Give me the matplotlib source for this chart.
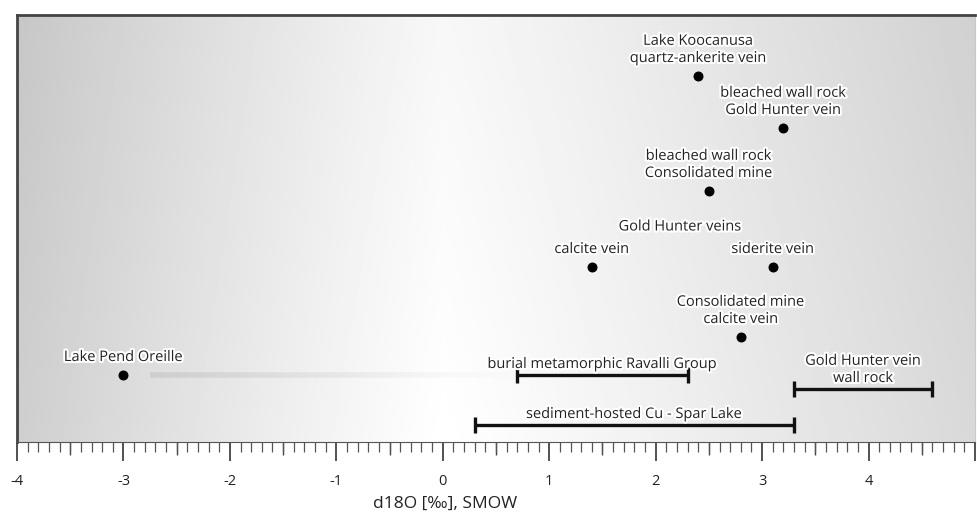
import numpy as np
import matplotlib.pyplot as plt
import matplotlib.patheffects as pe

########################## dados (d18O, permil SMOW) ##########################

point_names = ["Lake Koocanusa\nquartz-ankerite vein",
               "bleached wall rock\nGold Hunter vein",
               "bleached wall rock\nConsolidated mine",
               "calcite vein",
               "siderite vein",
               "Consolidated mine\ncalcite vein",
               "Lake Pend Oreille"]
point_d18o = [2.4, 3.2, 2.5, 1.4, 3.1, 2.8, -3.0]

range_names = ["burial metamorphic Ravalli Group",
               "Gold Hunter vein\nwall rock",
               "sediment-hosted Cu - Spar Lake"]
range_low = [0.7, 3.3, 0.3]
range_high = [2.3, 4.6, 3.3]

tick_values = [-4, -3, -2, -1, 0, 1, 2, 3, 4]

# linhas verticais (layout, sem significado fisico)
point_rows = [366, 314, 251, 175, 175, 105, 67]
range_rows = [67, 53, 17]

################################ figura ########################################

plt.rcParams['font.family'] = ['Open Sans', 'DejaVu Sans']

fig = plt.figure(figsize=(9.77, 5.17), dpi=100)
ax = fig.add_axes([17/977, 75/517, 958/977, 427/517])
ax.set_xlim(-4, 5)
ax.set_ylim(0, 427)

# fundo em degrade (claro no centro, cinza nas bordas)
xs = np.linspace(-4, 5, 400)
ys = np.linspace(0, 427, 100)
X, Y = np.meshgrid(xs, ys)
left = 1 - 0.19 * (np.clip(-X, 0, None) / 4) ** 1.1
right = 1 - 0.15 * (np.clip(X, 0, None) / 5) ** 1.1
bg = np.where(X < 0, left, right) - 0.03 * (Y / 427)
ax.imshow(bg, cmap='gray', vmin=0, vmax=1, extent=(-4, 5, 0, 427),
          origin='lower', aspect='auto', zorder=0, interpolation='bilinear')

halo = [pe.withStroke(linewidth=3, foreground='white')]
fs = 10.5
ls = 1.2

# faixa clara ligando Lake Pend Oreille ao grupo Ravalli
seg = np.linspace(point_d18o[6] + 0.25, range_low[0], 40)
for i in range(len(seg) - 1):
    a = 0.35 * (1 - i / (len(seg) - 1))
    ax.plot(seg[i:i + 2], [point_rows[6]] * 2, color='#b0b0b0', lw=4,
            alpha=a, solid_capstyle='butt', zorder=1)

ax.scatter(point_d18o, point_rows, s=38, color='black', zorder=3)
for name, x, y in zip(point_names, point_d18o, point_rows):
    ax.text(x, y + 10, name, ha='center', va='bottom', fontsize=fs,
            linespacing=ls, color='#222222', path_effects=halo, zorder=4)

ax.text(2.23, 215, "Gold Hunter veins", ha='center', va='center', fontsize=fs,
        color='#222222', path_effects=halo, zorder=4)

ax.errorbar([(a + b) / 2 for a, b in zip(range_low, range_high)], range_rows,
            xerr=[[(b - a) / 2 for a, b in zip(range_low, range_high)]] * 2,
            fmt='none', ecolor='#111111', elinewidth=2.4, capsize=6,
            capthick=2.4, zorder=3)
for name, a, b, y in zip(range_names, range_low, range_high, range_rows):
    ax.text((a + b) / 2, y + 3, name, ha='center', va='bottom', fontsize=fs,
            linespacing=ls, color='#222222', path_effects=halo, zorder=4)

############################### eixos ##########################################

ax.set_yticks([])
ax.set_xticks(tick_values + [5])
ax.set_xticklabels([str(v) for v in tick_values] + [''])
ax.set_xticks(np.arange(-4, 5.01, 0.1), minor=True)
ax.tick_params(axis='x', which='major', length=14, width=1.2, color='#333333',
               labelsize=10.5, pad=9, labelcolor='#222222')
ax.tick_params(axis='x', which='minor', length=7, width=0.9, color='#555555')

# marcas de meia unidade um pouco maiores
half = ax.secondary_xaxis('bottom')
half.set_xticks(np.arange(-3.5, 5, 1.0))
half.set_xticklabels([])
half.tick_params(length=9, width=1.0, color='#444444')
half.spines['bottom'].set_visible(False)

ax.spines['left'].set_color('#444444')
ax.spines['left'].set_linewidth(2)
ax.spines['top'].set_color('#444444')
ax.spines['top'].set_linewidth(2)
ax.spines['right'].set_color('#c8c8c8')
ax.spines['bottom'].set_color('#555555')

ax.set_xlabel("d18O [‰], SMOW", fontsize=12.5, color='#222222')
ax.xaxis.set_label_coords(0.447, -0.125)

plt.savefig('out.png', dpi=100)
